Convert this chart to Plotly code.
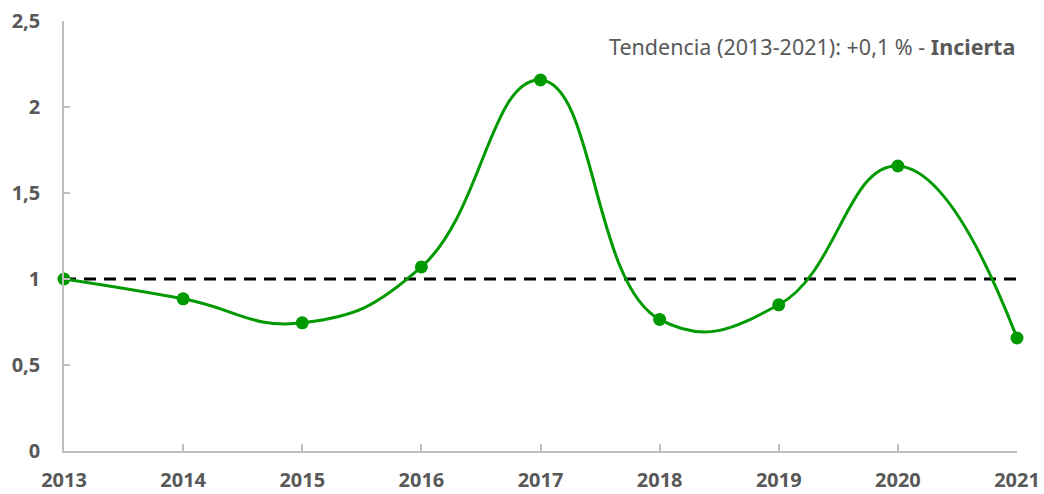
import plotly.graph_objects as go

years = [2013, 2014, 2015, 2016, 2017, 2018, 2019, 2020, 2021]
values = [1.0, 0.885, 0.745, 1.07, 2.157, 0.765, 0.85, 1.657, 0.657]
ref_x = [2013, 2021]
ref_y = [1.0, 1.0]
y_ticks = [0, 0.5, 1, 1.5, 2, 2.5]
note = "Tendencia (2013-2021): +0,1 % - <b>Incierta</b>"

green = "#009A00"
grey_text = "#595959"
axis_col = "#BFBFBF"
font_fam = "Noto Sans, DejaVu Sans, sans-serif"

fig = go.Figure()
fig.add_trace(go.Scatter(
    x=ref_x, y=ref_y, mode="lines",
    line=dict(color="black", width=3, dash="12px,8px"),
    hoverinfo="skip", showlegend=False, cliponaxis=False))
fig.add_trace(go.Scatter(
    x=years, y=values, mode="lines+markers",
    line=dict(color=green, width=3, shape="spline", smoothing=1.3),
    marker=dict(color=green, size=13),
    showlegend=False, cliponaxis=False))

fig.add_annotation(
    text=note, xref="paper", yref="paper", x=1.0, y=0.94,
    xanchor="right", yanchor="middle", showarrow=False,
    font=dict(family=font_fam, size=21.5, color=grey_text))

fig.update_layout(
    width=1044, height=494,
    margin=dict(l=64, r=27, t=21, b=43),
    paper_bgcolor="white", plot_bgcolor="white",
    separators=",.",
    font=dict(family=font_fam, color=grey_text),
)
fig.update_xaxes(
    range=[2013, 2021], tickvals=years, ticktext=[str(y) for y in years],
    showgrid=False, zeroline=False, automargin=False,
    showline=True, linecolor=axis_col, linewidth=1.5,
    ticks="inside", ticklen=7, tickcolor=axis_col, tickwidth=1.5,
    tickfont=dict(family=font_fam, size=20, color=grey_text, weight="bold"),
    ticklabelstandoff=10,
)
fig.update_yaxes(
    range=[0, 2.5], tickvals=y_ticks,
    showgrid=False, zeroline=False, automargin=False,
    showline=True, linecolor=axis_col, linewidth=1.5,
    ticks="inside", ticklen=6, tickcolor=axis_col, tickwidth=1.5,
    tickfont=dict(family=font_fam, size=20, color=grey_text, weight="bold"),
    ticklabelstandoff=18,
)

fig.write_html("out.html",
               config={"displayModeBar": False},
               post_script="document.body.style.margin='0';document.body.style.overflow='hidden';")
